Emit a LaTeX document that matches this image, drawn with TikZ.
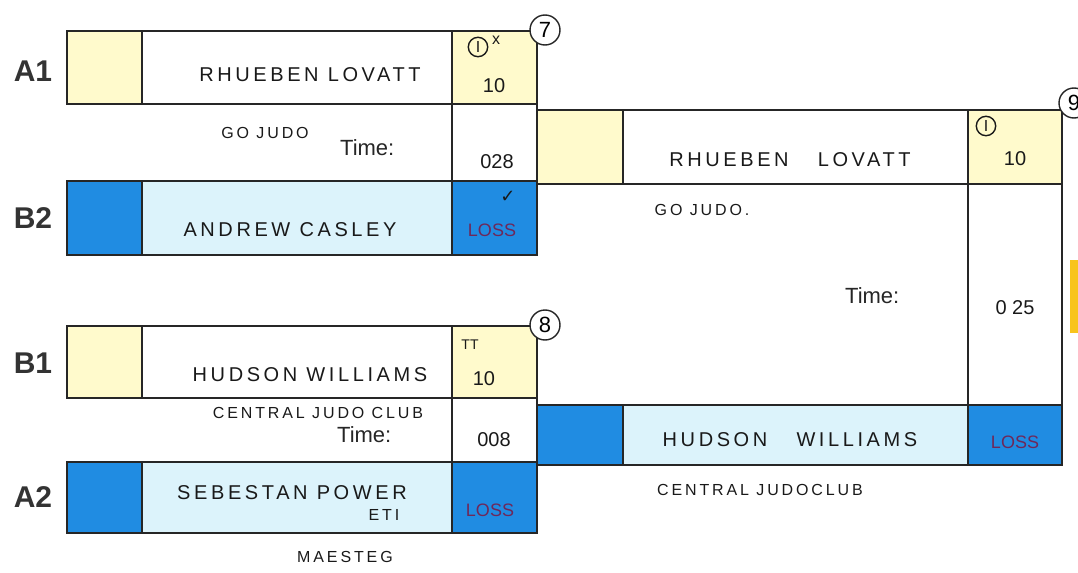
\documentclass[tikz,border=0pt]{standalone}
\usepackage{fontspec}
\setmainfont{Liberation Sans}
\newfontfamily\symfont{DejaVu Sans}
\definecolor{paleyellow}{RGB}{255,250,204}
\definecolor{judoblue}{RGB}{32,140,226}
\definecolor{paleblue}{RGB}{220,243,251}
\definecolor{stripyellow}{RGB}{248,196,28}
\definecolor{ink}{RGB}{25,25,25}
\definecolor{redink}{RGB}{110,40,90}
\begin{document}
\begin{tikzpicture}[x=0.5pt,y=-0.5pt,line width=1pt,
  box/.style={draw=black!85},
  pool/.style={font=\fontsize{15}{17}\selectfont\bfseries,text=black!80},
  timelbl/.style={font=\fontsize{11}{13}\selectfont,anchor=east,text=black!85},
  hand/.style={font=\fontsize{10}{12}\selectfont\addfontfeature{LetterSpace=18},text=ink},
  club/.style={font=\fontsize{8}{10}\selectfont\addfontfeature{LetterSpace=18},text=ink},
  score/.style={font=\fontsize{10}{12}\selectfont,text=ink},
  loss/.style={font=\fontsize{9}{11}\selectfont,text=redink},
  ippon/.style={draw=ink,circle,inner sep=1.4pt,line width=0.7pt,font=\fontsize{8}{8}\selectfont,text=ink},
  matchno/.style={draw=black!85,fill=white,circle,line width=0.7pt,minimum size=15pt,inner sep=0pt,font=\fontsize{11}{12}\selectfont}]
  \useasboundingbox (0,0) rectangle (1078,573);
  % match 7
  \draw[box,fill=paleyellow] (67,31) rectangle (142,104);
  \draw[box] (142,31) rectangle (452,104);
  \draw[box,fill=paleyellow] (452,31) rectangle (537,104);
  \draw[box] (452,104) rectangle (537,181);
  \draw[box,fill=judoblue] (67,181) rectangle (142,255);
  \draw[box,fill=paleblue] (142,181) rectangle (452,255);
  \draw[box,fill=judoblue] (452,181) rectangle (537,255);
  % match 8
  \draw[box,fill=paleyellow] (67,326) rectangle (142,398);
  \draw[box] (142,326) rectangle (452,398);
  \draw[box,fill=paleyellow] (452,326) rectangle (537,398);
  \draw[box] (452,398) rectangle (537,462);
  \draw[box,fill=judoblue] (67,462) rectangle (142,533);
  \draw[box,fill=paleblue] (142,462) rectangle (452,533);
  \draw[box,fill=judoblue] (452,462) rectangle (537,533);
  % match 9
  \draw[box,fill=paleyellow] (537,110) rectangle (623,184);
  \draw[box] (623,110) rectangle (968,184);
  \draw[box,fill=paleyellow] (968,110) rectangle (1062,184);
  \draw[box] (968,184) rectangle (1062,405);
  \draw[box,fill=judoblue] (537,405) rectangle (623,465);
  \draw[box,fill=paleblue] (623,405) rectangle (968,465);
  \draw[box,fill=judoblue] (968,405) rectangle (1062,465);
  \fill[stripyellow] (1070,260) rectangle (1078,333);

  \node[matchno] (m7) at (545,30) {7};
  \node[matchno] (m8) at (545,325) {8};
  \node[matchno] (m9) at (1074,103) {9};

  \node[pool] (lA1) at (33,71) {A1};
  \node[pool] (lB2) at (33,218) {B2};
  \node[pool] (lB1) at (33,363) {B1};
  \node[pool] (lA2) at (33,497) {A2};

  \node[timelbl] (t7) at (402,148) {Time:};
  \node[timelbl] (t8) at (399,435) {Time:};
  \node[timelbl] (t9) at (907,296) {Time:};

  \node[hand] (n7a) at (310,75) {RHUEBEN LOVATT};
  \node[club] (c7a) at (265,133) {GO JUDO};
  \node[ippon] (i7) at (478,47) {I};
  \node[score,font=\fontsize{8}{8}\selectfont] (x7) at (496,40) {x};
  \node[score] (s7a) at (494,86) {10};
  \node[score] (d7) at (497,162) {028};
  \node[hand] (n7b) at (290,230) {ANDREW CASLEY};
  \node[font=\symfont\fontsize{9}{9}\selectfont,text=ink] (k7) at (508,197) {✓};
  \node[loss] (s7b) at (492,230) {LOSS};

  \node[hand] (n8a) at (310,375) {HUDSON WILLIAMS};
  \node[score,font=\fontsize{7}{8}\selectfont] (p8) at (470,345) {TT};
  \node[score] (s8a) at (484,379) {10};
  \node[club] (c8a) at (318,413) {CENTRAL JUDO CLUB};
  \node[score] (d8) at (494,440) {008};
  \node[hand] (n8b) at (292,493) {SEBESTAN POWER};
  \node[club] (e8) at (384,515) {ETI};
  \node[loss] (s8b) at (490,510) {LOSS};
  \node[club] (c8b) at (345,557) {MAESTEG};

  \node[hand] (n9a) at (790,160) {RHUEBEN \quad LOVATT};
  \node[club] (c9a) at (702,210) {GO JUDO.};
  \node[ippon] (i9) at (986,126) {I};
  \node[score] (s9a) at (1015,159) {10};
  \node[score] (d9) at (1015,308) {0 25};
  \node[hand] (n9b) at (790,440) {HUDSON \quad WILLIAMS};
  \node[loss] (s9b) at (1015,442) {LOSS};
  \node[club] (c9b) at (760,490) {CENTRAL JUDOCLUB};
\end{tikzpicture}
\end{document}
